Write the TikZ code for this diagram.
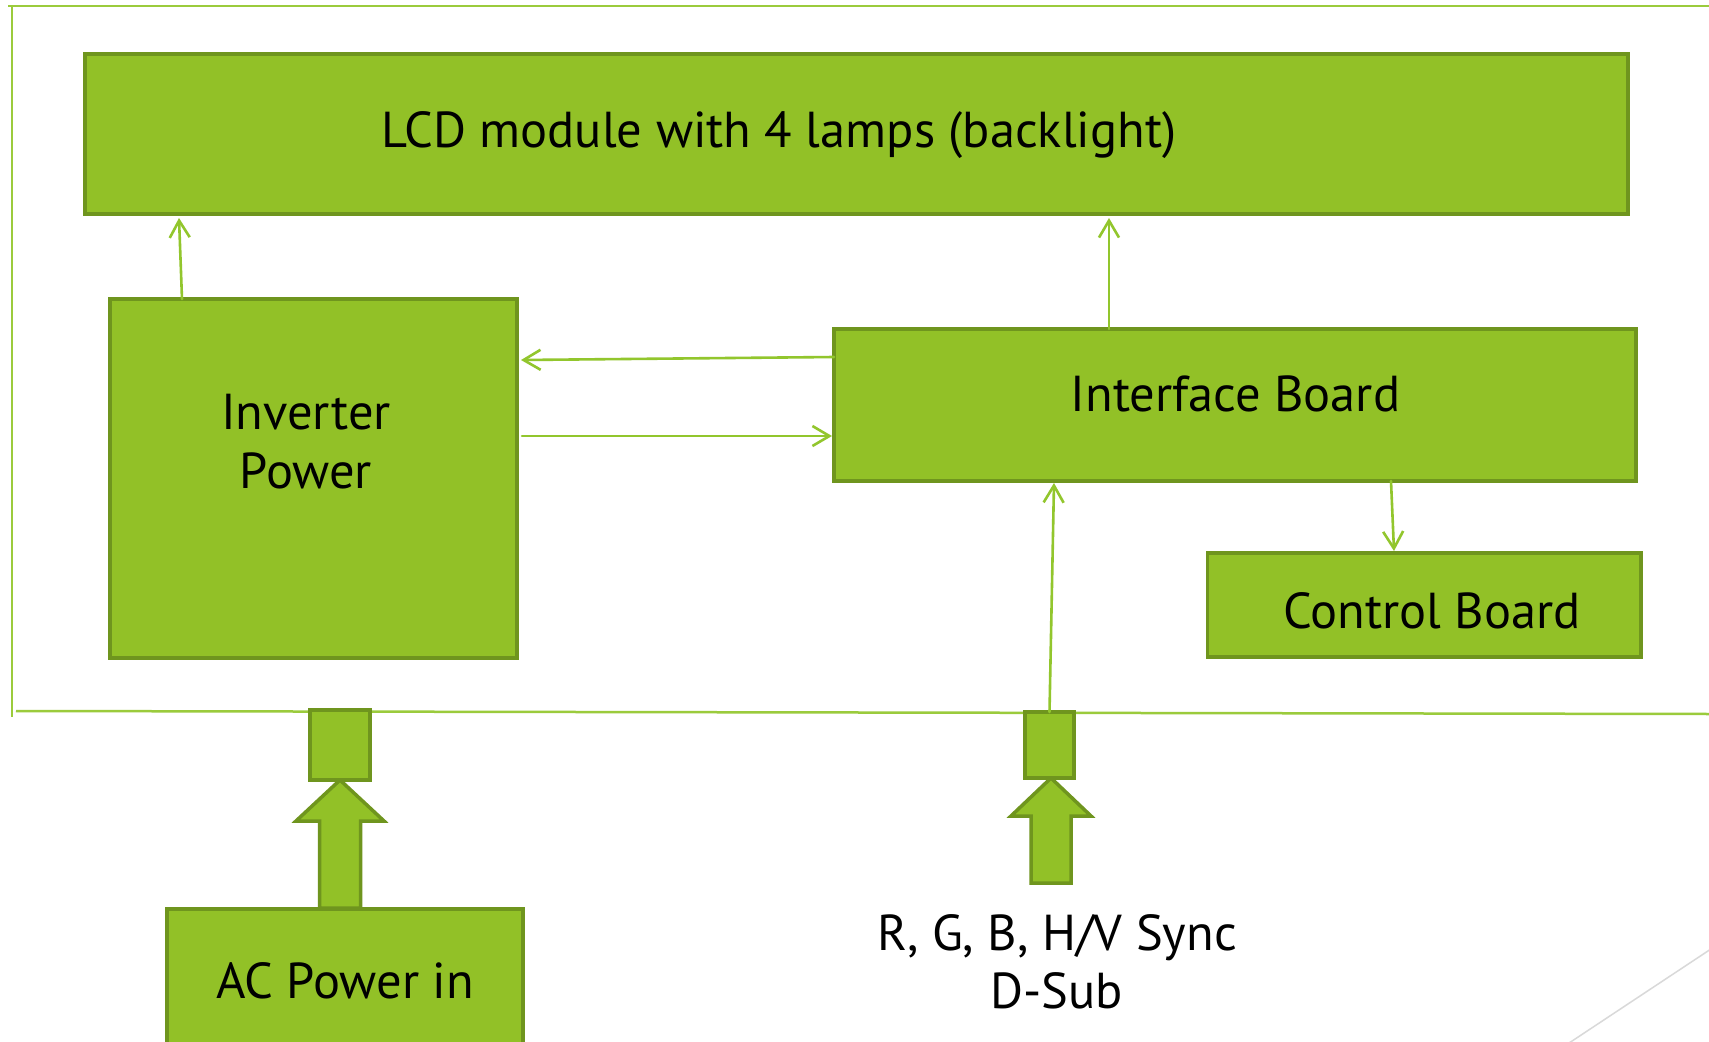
\documentclass[tikz,border=0pt]{standalone}
\usepackage{fontspec}
\setmainfont{PT Sans}
\usetikzlibrary{arrows.meta,calc}
\definecolor{boxfill}{RGB}{146,193,39}
\definecolor{boxedge}{RGB}{111,149,30}
\definecolor{linegreen}{RGB}{146,198,45}
\definecolor{framegreen}{RGB}{155,203,60}
\begin{document}
\begin{tikzpicture}[x=1pt,y=-1pt,
  box/.style={draw=boxedge, fill=boxfill, line width=3.5pt, inner sep=0pt, outer sep=0pt, rectangle},
  conn/.style={draw=linegreen, line width=2.6pt, line cap=round, -{Straight Barb[length=17pt,width=20pt]}},
  frame/.style={draw=framegreen, line width=2.5pt},
  txt/.style={font=\fontsize{50.5}{60}\selectfont, text=black, inner sep=0pt},
  blockarrow/.style={draw=boxedge, fill=boxfill, line width=3.5pt, line join=miter}]
\useasboundingbox (0,0) rectangle (1709,1042);
\clip (0,0) rectangle (1709,1042);
\fill[white] (0,0) rectangle (1709,1042);
% frame
\draw[frame] (8,6) -- (1712,6);
\draw[frame] (12,6) -- (12,717);
\draw[frame] (16,711) -- (1712,714);
% decoration line
\draw[gray!30, line width=1.5pt] (1560,1049) -- (1720,943);
% boxes
\node[box, minimum width=1543pt, minimum height=160pt] (lcd) at (856.5,134) {};
\node[box, minimum width=407pt, minimum height=359pt] (inv) at (313.5,478.5) {};
\node[box, minimum width=802pt, minimum height=152pt] (ifb) at (1235,405) {};
\node[box, minimum width=433.5pt, minimum height=104pt] (ctrl) at (1424.25,605) {};
\node[box, minimum width=356pt, minimum height=160pt] (ac) at (345,989) {};
% block arrows
\coordinate (sq1tip) at (340,780);
\coordinate (sq2tip) at (1051,778);
\draw[blockarrow] (sq1tip) -- ++(44,41) -- ++(-23.5,0) -- ++(0,87) -- ++(-41,0) -- ++(0,-87) -- ++(-23.5,0) -- cycle;
\draw[blockarrow] (sq2tip) -- ++(40,38) -- ++(-20,0) -- ++(0,67) -- ++(-40,0) -- ++(0,-67) -- ++(-20,0) -- cycle;
% connector squares
\node[box, minimum width=60pt, minimum height=70pt] (sq1) at (340,745) {};
\node[box, minimum width=49pt, minimum height=66pt] (sq2) at (1049.5,745) {};
% texts
\node[txt, anchor=base] (lcdtext) at (779,147) {LCD module with 4 lamps (backlight)};
\node[txt, anchor=base] (invtext1) at (306,429) {Inverter};
\node[txt, anchor=base] (invtext2) at (306,488) {Power};
\node[txt, anchor=base] (ifbtext) at (1235.5,411) {Interface Board};
\node[txt, anchor=base] (ctrltext) at (1432,628) {Control Board};
\node[txt, anchor=base] (actext) at (345,998) {AC Power in};
\node[txt, anchor=base] (rgbtext) at (1057,950) {R, G, B, H/V Sync};
\node[txt, anchor=base] (dsubtext) at (1057,1008) {D-Sub};
% connectors
\draw[conn] ([xshift=72pt]inv.north west) -- ([xshift=94pt,yshift=-4pt]lcd.south west);
\draw[conn] ([xshift=275pt]ifb.north west) -- ([xshift=1024pt,yshift=-4pt]lcd.south west);
\draw[conn] ([yshift=-28pt]ifb.north west) -- ([xshift=4pt,yshift=-61pt]inv.north east);
\draw[conn] ([xshift=5pt,yshift=-137pt]inv.north east) -- ([xshift=-2pt,yshift=-107pt]ifb.north west);
\draw[conn] ([xshift=557pt]ifb.south west) -- ([xshift=186.5pt,yshift=2pt]ctrl.north west);
\draw[conn] (sq2.north) -- ([xshift=220pt,yshift=-2pt]ifb.south west);
\end{tikzpicture}
\end{document}
